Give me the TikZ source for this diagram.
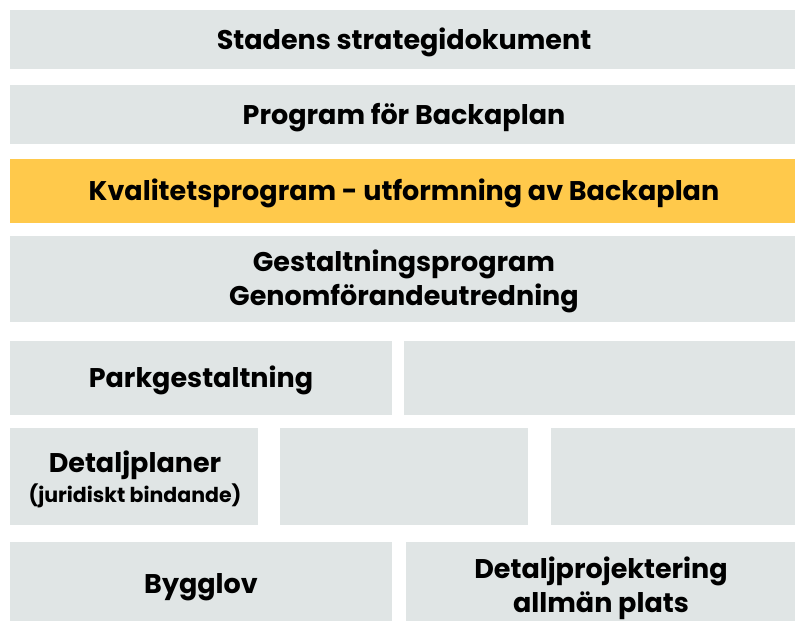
\documentclass[tikz,border=0pt]{standalone}
\usepackage{fontspec}
\setmainfont{Poppins}[BoldFont={Poppins Bold}]
\definecolor{boxgray}{HTML}{E0E5E5}
\definecolor{boxyellow}{HTML}{FFC94B}
\begin{document}
\begin{tikzpicture}[x=1pt,y=-1pt,
  box/.style={fill=boxgray, draw=none, inner sep=0pt},
  hl/.style={fill=boxyellow, draw=none, inner sep=0pt},
  lbl/.style={font=\bfseries\fontsize{27}{34}\selectfont, align=center, inner sep=0pt, text=black},
  small/.style={font=\bfseries\fontsize{20.5}{24}\selectfont, inner sep=0pt}]
\useasboundingbox[fill=white] (0,0) rectangle (795,621);
% boxes
\path[box] (10,10) rectangle (795,69) node[midway] (r1) {};
\path[box] (10,85) rectangle (795,144) node[midway] (r2) {};
\path[hl] (10,159) rectangle (795,222.7) node[midway] (r3) {};
\path[box] (10,236) rectangle (795,321.7) node[midway] (r4) {};
\path[box] (10,341) rectangle (392,415) node[midway] (r5a) {};
\path[box] (404,341) rectangle (795,415) node[midway] (r5b) {};
\path[box] (10,428) rectangle (258,525) node[midway] (r6a) {};
\path[box] (280,428) rectangle (528,525) node[midway] (r6b) {};
\path[box] (551,428) rectangle (795,525) node[midway] (r6c) {};
\path[box] (10,542) rectangle (392,621) node[midway] (r7a) {};
\path[box] (406,542) rectangle (795,621) node[midway] (r7b) {};
% labels
\node[lbl] (t1) at (404,42.5) {Stadens strategidokument};
\node[lbl] (t2) at (404,117.5) {Program för Backaplan};
\node[lbl] (t3) at (404,193.5) {Kvalitetsprogram - utformning av Backaplan};
\node[lbl] (t4) at (404,281.5) {Gestaltningsprogram\\Genomförandeutredning};
\node[lbl] (t5) at (201,380.5) {Parkgestaltning};
\node[lbl] (t6) at (135,465.5) {Detaljplaner};
\node[small] (t6b) at (135,495.5) {(juridiskt bindande)};
\node[lbl] (t7) at (201,587.5) {Bygglov};
\node[lbl] (t8) at (601,588.5) {Detaljprojektering\\allmän plats};
\end{tikzpicture}
\end{document}
